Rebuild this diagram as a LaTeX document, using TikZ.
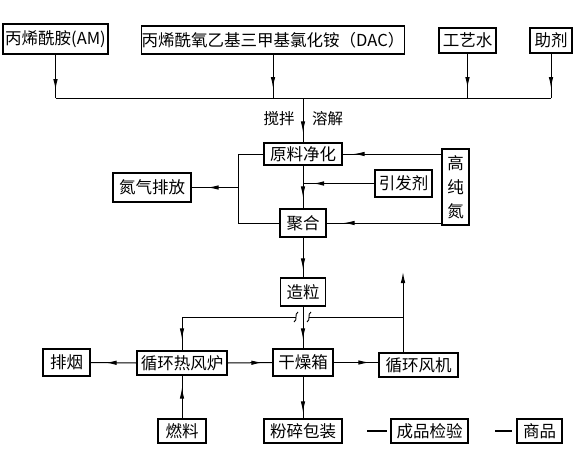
\documentclass[tikz,border=0pt]{standalone}
\usepackage{fontspec}
\setmainfont{Noto Sans CJK SC}
\usetikzlibrary{arrows.meta,decorations.markings}
\begin{document}
\begin{tikzpicture}[x=1pt,y=-1pt,
  box/.style={draw,line width=1.3pt,inner sep=0pt,font=\fontsize{16.5}{18}\selectfont},
  conn/.style={line width=1pt},
  mtip/.style={postaction={decorate},decoration={markings,mark=at position #1 with {\arrow{Latex[length=11pt,width=4.5pt]}}}},
  endtip/.style={-{Latex[length=11pt,width=4.5pt]}},
  lbl/.style={inner sep=0pt,font=\fontsize{15.5}{18}\selectfont},
  stub/.style={line width=2.2pt},
  jump/.style={line width=0.9pt}]
\useasboundingbox (0,0) rectangle (578,460);

% top row
\node[box,minimum width=105pt,minimum height=30pt] (am) at (55.5,39) {丙烯酰胺(AM)};
\node[box,minimum width=262pt,minimum height=28pt] (dac) at (273,40) {丙烯酰氧乙基三甲基氯化铵（DAC）};
\node[box,minimum width=57pt,minimum height=25pt] (gys) at (467.5,40.5) {工艺水};
\node[box,minimum width=42pt,minimum height=25pt] (zj) at (551,40.5) {助剂};
\coordinate (hl) at (0,98);
\coordinate (mix) at (303,98);

% middle
\node[box,minimum width=78pt,minimum height=22pt] (ylj) at (303,154) {原料净化};
\node[lbl] (jb) at (279,119) {搅拌};
\node[lbl] (rj) at (327.5,119) {溶解};
\node[box,minimum width=78pt,minimum height=29pt] (dqpf) at (152,187.5) {氮气排放};
\node[box,minimum width=57pt,minimum height=27pt] (yfj) at (403.5,183.5) {引发剂};
\node[box,minimum width=27pt,minimum height=76pt,align=center,font=\fontsize{16.5}{24}\selectfont] (gcd) at (455.5,187) {高\\纯\\氮};
\node[box,minimum width=46pt,minimum height=28pt] (jh) at (303,223) {聚合};
\node[box,minimum width=45pt,minimum height=28pt] (zl) at (303,292) {造粒};
\coordinate (lp) at (238,0);

% row 4
\node[box,minimum width=47pt,minimum height=27pt] (py) at (66.5,362.5) {排烟};
\node[box,minimum width=90pt,minimum height=24pt] (rfl) at (182,363) {循环热风炉};
\node[box,minimum width=60pt,minimum height=27pt] (gzx) at (303,362.5) {干燥箱};
\node[box,minimum width=79pt,minimum height=24pt] (xhfj) at (418.5,365) {循环风机};
\coordinate (up) at (403,272);
\coordinate (cr) at (403,317);
\coordinate (jr) at (309,317);
\coordinate (jl) at (296,317);

% bottom row
\node[box,minimum width=48pt,minimum height=24pt] (rl) at (182,431) {燃料};
\node[box,minimum width=78pt,minimum height=24pt] (fsbz) at (303,431) {粉碎包装};
\node[box,minimum width=77pt,minimum height=24pt] (cpjy) at (429.5,431) {成品检验};
\node[box,minimum width=45pt,minimum height=24pt] (sp) at (539.5,431) {商品};

% connectors top
\draw[conn,mtip=-8pt] (am.south) -- (am.south |- hl);
\draw[conn,mtip=-10pt] (dac.south) -- (dac.south |- hl);
\draw[conn,mtip=-10pt] (gys.south) -- (gys.south |- hl);
\draw[conn,mtip=-10pt] (zj.south) -- (zj.south |- hl);
\draw[conn] (am.south |- hl) -- (zj.south |- hl);
\draw[conn,mtip=-10pt] (mix) -- (ylj.north);

% connectors middle
\draw[conn,mtip=-11pt] (ylj.south) -- (jh.north);
\draw[conn,mtip=-10pt] (yfj.west) -- (ylj.south |- yfj.west);
\draw[conn,mtip=-11pt] (gcd.west |- ylj.east) -- (ylj.east);
\draw[conn,mtip=-17pt] (gcd.west |- jh.east) -- (jh.east);
\draw[conn] (ylj.west) -| (lp |- jh.west) -- (jh.west);
\draw[conn,mtip=-16pt] (lp |- dqpf.east) -- (dqpf.east);
\draw[conn,mtip=-8pt] (jh.south) -- (zl.north);

% connectors row 4
\draw[conn,mtip=-9pt] (zl.south) -- (gzx.north);
\draw[conn,mtip=-15pt] (rfl.west) -- (py.east);
\draw[conn,mtip=-10pt] (rfl.east) -- (gzx.west);
\draw[conn,mtip=-9pt] (gzx.east) -- (gzx.east -| xhfj.west);
\draw[conn,endtip] (up |- xhfj.north) -- (up);
\draw[conn] (cr) -- (jr);
\draw[conn,mtip=-11pt] (jl) -| (rfl.north);
\draw[jump] ([shift={(-2,5)}]jl) .. controls ([shift={(2,3)}]jl) and ([shift={(-2,-3)}]jl) .. ([shift={(2,-5)}]jl);
\draw[jump] ([shift={(-2,5)}]jr) .. controls ([shift={(2,3)}]jr) and ([shift={(-2,-3)}]jr) .. ([shift={(2,-5)}]jr);

% connectors bottom
\draw[conn,mtip=-12pt] (rl.north) -- (rfl.south);
\draw[conn,mtip=-6pt] (gzx.south) -- (fsbz.north);
\draw[stub] ([xshift=-23pt]cpjy.west) -- ([xshift=-3pt]cpjy.west);
\draw[stub] ([xshift=-21pt]sp.west) -- ([xshift=-4pt]sp.west);
\end{tikzpicture}
\end{document}
